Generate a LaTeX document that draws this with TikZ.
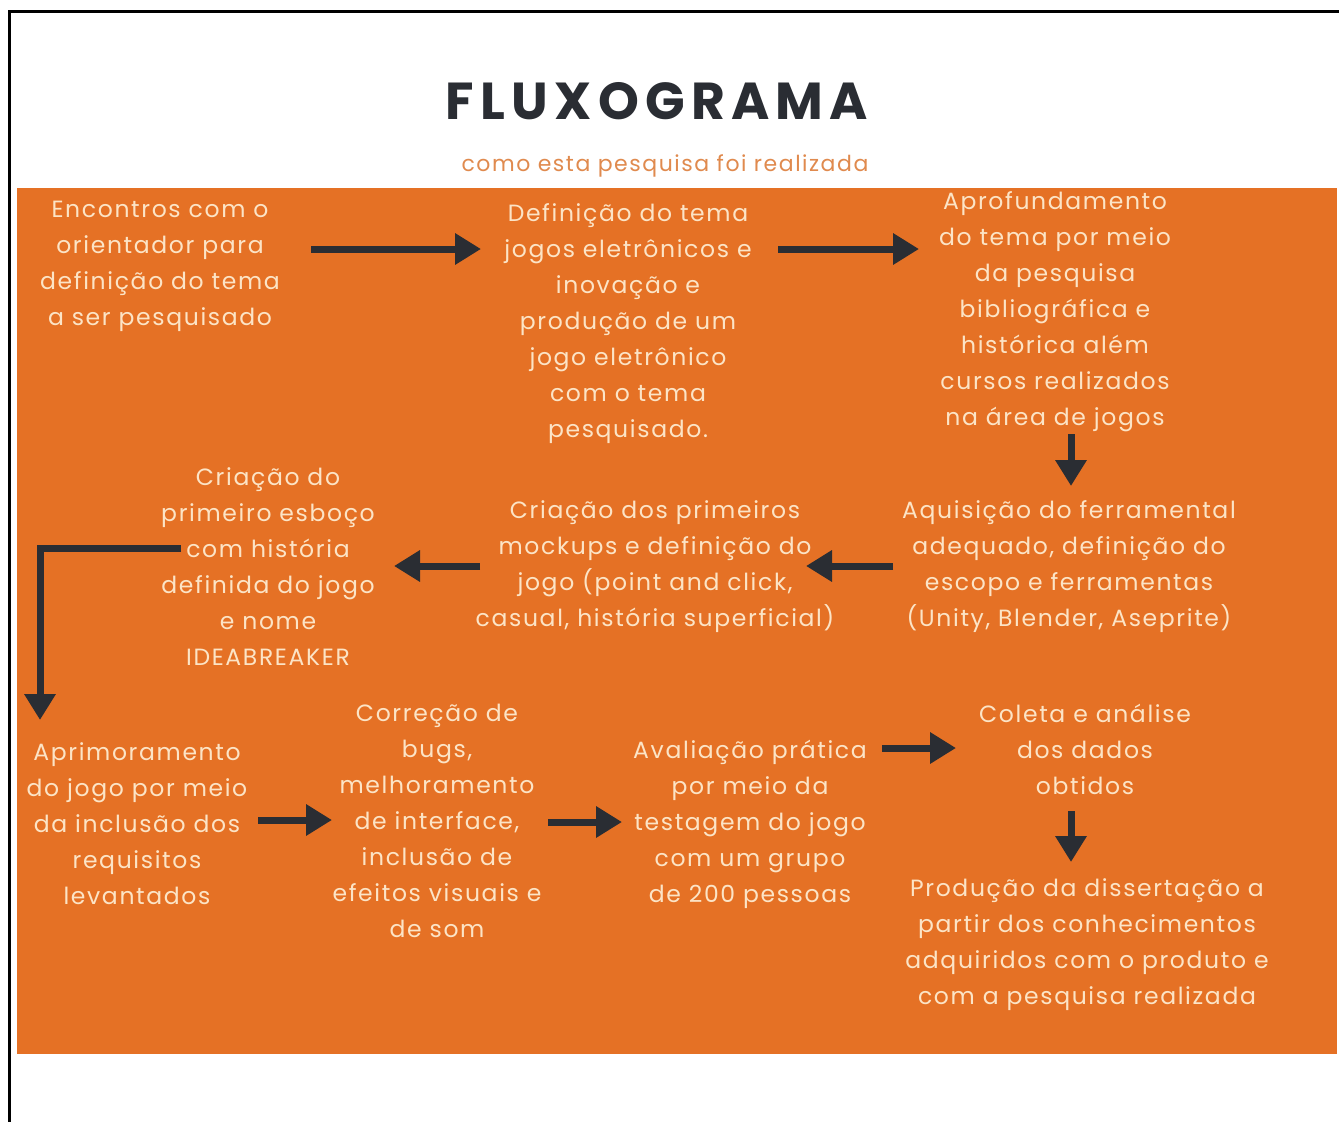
\documentclass[tikz,border=0pt]{standalone}
\usepackage{fontspec}
\setmainfont{Poppins}
\newfontfamily\bodyfam[LetterSpace=7]{Poppins}
\newfontfamily\subfam[LetterSpace=7]{Poppins}
\newfontfamily\titlefam[LetterSpace=12]{Poppins}
\usetikzlibrary{arrows.meta}
\definecolor{orng}{HTML}{E57125}
\definecolor{cream}{HTML}{FCE4C6}
\definecolor{subc}{HTML}{E08A4E}
\definecolor{arrc}{HTML}{2A2D33}
\tikzset{
  txt/.style={text=cream, align=center, inner sep=0pt, font=\bodyfam\fontsize{23.5}{36}\selectfont},
  arr/.style={draw=arrc, line width=7pt, -{Triangle[length=26pt,width=30pt]}}
}
\begin{document}
\begin{tikzpicture}[x=1pt,y=-1pt]
\useasboundingbox (0,0) rectangle (1339,1122);
\fill[white] (0,0) rectangle (1339,1122);
\fill[orng] (17,188) rectangle (1337,1054);
\draw[black, line width=3pt] (9,1122) -- (9,11) -- (1339,11);
\node[text=arrc, inner sep=0pt, font=\titlefam\bfseries\fontsize{52}{60}\selectfont] (title) at (657,101) {FLUXOGRAMA};
\node[text=subc, inner sep=0pt, font=\subfam\fontsize{22}{30}\selectfont] (sub) at (665,166) {como esta pesquisa foi realizada};

\node[txt] (n1) at (160,266) {Encontros com o\\orientador para\\definição do tema\\a ser pesquisado};
\node[txt] (n2) at (628,324) {Definição do tema\\jogos eletrônicos e\\inovação e\\produção de um\\jogo eletrônico\\com o tema\\pesquisado.};
\node[txt] (n3) at (1055,312) {Aprofundamento\\do tema por meio\\da pesquisa\\bibliográfica e\\histórica além\\cursos realizados\\na área de jogos};
\node[txt] (n4) at (1069,567) {Aquisição do ferramental\\adequado, definição do\\escopo e ferramentas\\(Unity, Blender, Aseprite)};
\node[txt] (n5) at (655,567) {Criação dos primeiros\\mockups e definição do\\jogo (point and click,\\casual, história superficial)};
\node[txt] (n6) at (268,567) {Criação do\\primeiro esboço\\com história\\definida do jogo\\e nome\\IDEABREAKER};
\node[txt] (n7) at (137,824) {Aprimoramento\\do jogo por meio\\da inclusão dos\\requisitos\\levantados};
\node[txt] (n8) at (437,821) {Correção de\\bugs,\\melhoramento\\de interface,\\inclusão de\\efeitos visuais e\\de som};
\node[txt] (n9) at (750,824) {Avaliação prática\\por meio da\\testagem do jogo\\com um grupo\\de 200 pessoas};
\node[txt] (n10) at (1085,749) {Coleta e análise\\dos dados\\obtidos};
\node[txt] (n11) at (1087,945) {Produção da dissertação a\\partir dos conhecimentos\\adquiridos com o produto e\\com a pesquisa realizada};

\coordinate (a1s) at (311,249); \coordinate (a1e) at (481,249);
\coordinate (a2s) at (778,249); \coordinate (a2e) at (919,249);
\coordinate (a3s) at (1071,434); \coordinate (a3e) at (1071,486);
\coordinate (a4s) at (893,566); \coordinate (a4e) at (806,566);
\coordinate (a5s) at (480,566); \coordinate (a5e) at (394,566);
\coordinate (a6s) at (181,548); \coordinate (a6e) at (40,720);
\coordinate (a7s) at (258,820); \coordinate (a7e) at (332,820);
\coordinate (a8s) at (548,822); \coordinate (a8e) at (622,822);
\coordinate (a9s) at (882,748); \coordinate (a9e) at (956,748);
\coordinate (a10s) at (1071,811); \coordinate (a10e) at (1071,862);

\draw[arr] (a1s) -- (a1e);
\draw[arr] (a2s) -- (a2e);
\draw[arr] (a3s) -- (a3e);
\draw[arr] (a4s) -- (a4e);
\draw[arr] (a5s) -- (a5e);
\draw[arr] (a6s) -| (a6e);
\draw[arr] (a7s) -- (a7e);
\draw[arr] (a8s) -- (a8e);
\draw[arr] (a9s) -- (a9e);
\draw[arr] (a10s) -- (a10e);
\end{tikzpicture}
\end{document}
